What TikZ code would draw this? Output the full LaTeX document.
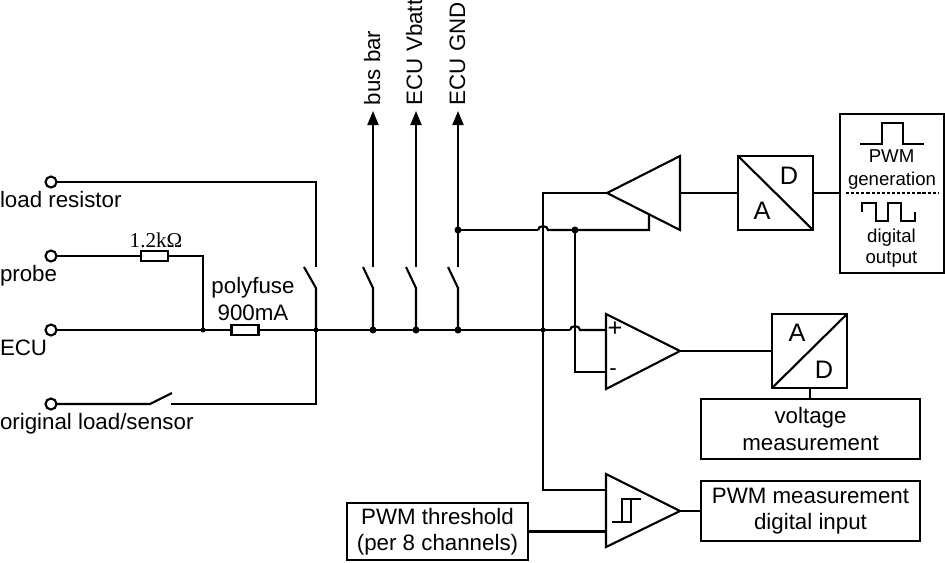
\documentclass[tikz,border=0pt]{standalone}
\usepackage{fontspec}
\setmainfont{Liberation Sans}
\newfontfamily\resfont{Liberation Serif}
\usepackage{tikz}
\usetikzlibrary{arrows.meta}
\pgfdeclarelayer{edgelayer}
\pgfdeclarelayer{nodelayer}
\pgfsetlayers{edgelayer,nodelayer,main}
\tikzstyle{none}=[inner sep=0pt,outer sep=0pt]
\tikzstyle{wire}=[-,line width=0.6pt,line join=miter]
\tikzstyle{thin wire}=[-,line width=0.5pt]
\tikzstyle{outarrow}=[-{Triangle[length=1.4mm,width=1.1mm]},line width=0.6pt]
\tikzstyle{dotted wire}=[-,line width=0.5pt,dash pattern=on 0.9pt off 0.55pt]
\tikzstyle{terminal}=[circle,draw=black,fill=white,line width=0.6pt,inner sep=0pt,outer sep=0pt,minimum size=0.11cm]
\tikzstyle{bigdot}=[circle,fill=black,inner sep=0pt,outer sep=0pt,minimum size=0.07cm]
\tikzstyle{smalldot}=[circle,fill=black,inner sep=0pt,outer sep=0pt,minimum size=0.05cm]
\tikzstyle{resistor}=[rectangle,draw=black,fill=white,line width=0.6pt,inner sep=0pt,outer sep=0pt,minimum width=0.27cm,minimum height=0.10cm]
\tikzstyle{label}=[inner sep=0pt,outer sep=0pt,font=\fontsize{6.35}{7.5}\selectfont]
\tikzstyle{small label}=[inner sep=0pt,outer sep=0pt,font=\fontsize{5.3}{7}\selectfont]
\tikzstyle{letter}=[inner sep=0pt,outer sep=0pt,font=\fontsize{7.2}{8}\selectfont]
\tikzstyle{block}=[rectangle,draw=black,line width=0.6pt,inner sep=0pt,outer sep=0pt,align=center,font=\fontsize{6.35}{7.5}\selectfont]
\tikzstyle{converter}=[style=block,minimum width=0.75cm,minimum height=0.74cm]

\begin{document}
\begin{tikzpicture}
	\useasboundingbox (0,0) rectangle (9.45,-5.62);
	\begin{pgfonlayer}{nodelayer}
		\node [style=terminal] (Tload) at (0.51, -1.82) {};
		\node [style=terminal] (Tprobe) at (0.51, -2.56) {};
		\node [style=terminal] (Tecu) at (0.51, -3.30) {};
		\node [style=terminal] (Torig) at (0.51, -4.04) {};
		\node [style=label, anchor=base west] (Lload) at (0, -2.07) {load resistor};
		\node [style=label, anchor=base west] (Lprobe) at (0, -2.81) {probe};
		\node [style=label, anchor=base west] (Lecu) at (0, -3.55) {ECU};
		\node [style=label, anchor=base west] (Lorig) at (0, -4.29) {original load/sensor};

		\node [style=resistor] (R1) at (1.545, -2.56) {};
		\node [style=label, anchor=base, font=\resfont\fontsize{6}{7.5}\selectfont] (Lres) at (1.56, -2.47) {1.2kΩ};
		\node [style=resistor] (F1) at (2.45, -3.30) {};
		\node [style=label, anchor=base] (Lpoly) at (2.53, -2.93) {polyfuse};
		\node [style=label, anchor=base] (Lfuse) at (2.53, -3.20) {900mA};

		\node [style=smalldot] (J1) at (2.03, -3.30) {};
		\node [style=smalldot] (J2) at (3.16, -3.30) {};
		\node [style=bigdot] (J3) at (3.73, -3.30) {};
		\node [style=bigdot] (J4) at (4.16, -3.30) {};
		\node [style=bigdot] (J5) at (4.58, -3.30) {};
		\node [style=smalldot] (J6) at (5.43, -3.30) {};
		\node [style=bigdot] (J7) at (4.58, -2.30) {};
		\node [style=bigdot] (J8) at (5.75, -2.30) {};

		% relay corners
		\node [style=none] (Cload) at (3.16, -1.82) {};
		\node [style=none] (Sload) at (3.16, -2.67) {};
		\node [style=none] (Sloadt) at (3.04, -2.67) {};
		\node [style=none] (Sloadb) at (3.16, -2.88) {};
		\node [style=none] (Cres) at (2.03, -2.56) {};
		\node [style=none] (Corig) at (3.16, -4.04) {};
		\node [style=none] (Sorigr) at (1.71, -4.04) {};
		\node [style=none] (Sorigl) at (1.50, -4.04) {};
		\node [style=none] (Sorigt) at (1.72, -3.93) {};

		\node [style=none] (Sbusb) at (3.73, -2.88) {};
		\node [style=none] (Sbust) at (3.63, -2.67) {};
		\node [style=none] (Sbus) at (3.73, -2.67) {};
		\node [style=none] (Abus) at (3.73, -1.11) {};
		\node [style=none] (Sbatb) at (4.16, -2.88) {};
		\node [style=none] (Sbatt) at (4.06, -2.67) {};
		\node [style=none] (Sbat) at (4.16, -2.67) {};
		\node [style=none] (Abat) at (4.16, -1.11) {};
		\node [style=none] (Sgndb) at (4.58, -2.88) {};
		\node [style=none] (Sgndt) at (4.48, -2.67) {};
		\node [style=none] (Sgnd) at (4.58, -2.67) {};
		\node [style=none] (Agnd) at (4.58, -1.11) {};

		\node [style=label, anchor=base west, rotate=90] (Lbus) at (3.80, -1.05) {bus bar};
		\node [style=label, anchor=base west, rotate=90] (Lbat) at (4.22, -1.05) {ECU Vbatt};
		\node [style=label, anchor=base west, rotate=90] (Lgnd) at (4.65, -1.05) {ECU GND};

		% output amplifier
		\node [style=none] (OUTa) at (6.07, -1.93) {};
		\node [style=none] (OUTt) at (6.80, -1.56) {};
		\node [style=none] (OUTb) at (6.80, -2.30) {};
		\node [style=none] (OUTm) at (6.80, -1.93) {};
		\node [style=none] (OUTs) at (6.49, -2.15) {};
		\node [style=none] (OUTc) at (6.49, -2.30) {};
		\node [style=none] (Hgndl) at (5.38, -2.30) {};
		\node [style=none] (Hgndr) at (5.48, -2.30) {};
		\node [style=none] (Cout) at (5.43, -1.93) {};

		\node [style=converter] (DAC) at (7.755, -1.93) {};
		\node [style=letter] (DACd) at (7.89, -1.76) {D};
		\node [style=letter] (DACa) at (7.62, -2.11) {A};

		\node [style=block, minimum width=1.04cm, minimum height=1.59cm] (GEN) at (8.92, -1.935) {};
		\node [style=none] (GENw) at (8.40, -1.93) {};
		\node [style=none] (Pa) at (8.60, -1.44) {};
		\node [style=none] (Pb) at (8.82, -1.44) {};
		\node [style=none] (Pc) at (8.82, -1.23) {};
		\node [style=none] (Pd) at (9.03, -1.23) {};
		\node [style=none] (Pe) at (9.03, -1.44) {};
		\node [style=none] (Pf) at (9.24, -1.44) {};
		\node [style=small label, anchor=base] (Lpwm) at (8.915, -1.62) {PWM};
		\node [style=small label, anchor=base] (Lgen) at (8.92, -1.85) {generation};
		\node [style=none] (Dl) at (8.46, -1.93) {};
		\node [style=none] (Dr) at (9.38, -1.93) {};
		\node [style=none] (Qa) at (8.62, -2.12) {};
		\node [style=none] (Qb) at (8.62, -2.03) {};
		\node [style=none] (Qc) at (8.76, -2.03) {};
		\node [style=none] (Qd) at (8.76, -2.21) {};
		\node [style=none] (Qe) at (8.88, -2.21) {};
		\node [style=none] (Qf) at (8.88, -2.03) {};
		\node [style=none] (Qg) at (9.01, -2.03) {};
		\node [style=none] (Qh) at (9.01, -2.21) {};
		\node [style=none] (Qi) at (9.15, -2.21) {};
		\node [style=none] (Qj) at (9.15, -2.12) {};
		\node [style=small label, anchor=base] (Ldig) at (8.915, -2.42) {digital};
		\node [style=small label, anchor=base] (Lout) at (8.915, -2.63) {output};

		% measure amplifier
		\node [style=none] (INt) at (6.06, -3.14) {};
		\node [style=none] (INb) at (6.06, -3.89) {};
		\node [style=none] (INa) at (6.80, -3.51) {};
		\node [style=none] (INp) at (6.06, -3.30) {};
		\node [style=none] (INm) at (6.06, -3.72) {};
		\node [style=none] (Cm) at (5.75, -3.72) {};
		\node [style=none] (Hl) at (5.70, -3.30) {};
		\node [style=none] (Hr) at (5.80, -3.30) {};
		\node [style=letter] (Lp) at (6.15, -3.29) {+};
		\node [style=label] (Lm) at (6.13, -3.72) {-};

		\node [style=converter] (ADC) at (8.095, -3.51) {};
		\node [style=letter] (ADCa) at (7.97, -3.33) {A};
		\node [style=letter] (ADCd) at (8.24, -3.70) {D};
		\node [style=none] (ADCw) at (7.72, -3.51) {};
		\node [style=block, minimum width=2.19cm, minimum height=0.60cm] (VOLT) at (8.105, -4.29) {voltage\\measurement};
		\node [style=none] (ADCs) at (8.10, -3.88) {};
		\node [style=none] (VOLTn) at (8.10, -3.99) {};

		% comparator
		\node [style=none] (CMPt) at (6.06, -4.74) {};
		\node [style=none] (CMPb) at (6.06, -5.47) {};
		\node [style=none] (CMPa) at (6.80, -5.11) {};
		\node [style=none] (CMPi) at (6.06, -4.90) {};
		\node [style=none] (CMPj) at (6.06, -5.315) {};
		\node [style=none] (Cbot) at (5.43, -4.90) {};
		\node [style=none] (Ha) at (6.12, -5.22) {};
		\node [style=none] (Hb) at (6.31, -5.22) {};
		\node [style=none] (Hc) at (6.31, -4.99) {};
		\node [style=none] (Hd) at (6.41, -4.99) {};
		\node [style=none] (He) at (6.22, -5.22) {};
		\node [style=none] (Hf) at (6.22, -4.99) {};
		\node [style=block, minimum width=1.81cm, minimum height=0.57cm] (THR) at (4.375, -5.315) {PWM threshold\\(per 8 channels)};
		\node [style=block, minimum width=2.19cm, minimum height=0.60cm] (MEAS) at (8.105, -5.11) {PWM measurement\\digital input};
	\end{pgfonlayer}
	\begin{pgfonlayer}{edgelayer}
		\draw [style=wire] (Tload) to (Cload.center) to (Sload.center);
		\draw [style=wire] (Sloadt.center) to (Sloadb.center) to (J2.center);
		\draw [style=wire] (Tprobe) to (R1);
		\draw [style=wire] (R1) to (Cres.center) to (J1.center);
		\draw [style=wire] (Tecu) to (Hl.center);
		\draw [style=wire] (Hl.center) to [out=90,in=90,looseness=1.3] (Hr.center) to (INp.center);
		\draw [style=wire] (Torig) to (Sorigl.center) to (Sorigt.center);
		\draw [style=wire] (Sorigr.center) to (Corig.center) to (J2.center);

		\draw [style=wire] (J3.center) to (Sbusb.center) to (Sbust.center);
		\draw [style=wire] (J4.center) to (Sbatb.center) to (Sbatt.center);
		\draw [style=wire] (J5.center) to (Sgndb.center) to (Sgndt.center);
		\draw [style=outarrow] (Sbus.center) to (Abus.center);
		\draw [style=outarrow] (Sbat.center) to (Abat.center);
		\draw [style=outarrow] (Sgnd.center) to (Agnd.center);

		\draw [style=wire] (J7.center) to (Hgndl.center);
		\draw [style=wire] (Hgndl.center) to [out=90,in=90,looseness=1.3] (Hgndr.center) to (OUTc.center) to (OUTs.center);
		\draw [style=wire] (J8.center) to (Cm.center) to (INm.center);
		\draw [style=wire] (OUTa.center) to (OUTt.center) to (OUTb.center) -- cycle;
		\draw [style=wire] (OUTa.center) to (Cout.center) to (Cbot.center) to (CMPi.center);
		\draw [style=wire] (OUTm.center) to (DAC.west);
		\draw [style=wire] (DAC.east) to (GENw.center);
		\draw [style=wire] (DAC.north west) to (DAC.south east);
		\draw [style=wire] (Pa.center) to (Pb.center) to (Pc.center) to (Pd.center) to (Pe.center) to (Pf.center);
		\draw [style=dotted wire] (Dl.center) to (Dr.center);
		\draw [style=wire] (Qa.center) to (Qb.center) to (Qc.center) to (Qd.center) to (Qe.center) to (Qf.center) to (Qg.center) to (Qh.center) to (Qi.center) to (Qj.center);

		\draw [style=wire] (INt.center) to (INa.center) to (INb.center) -- cycle;
		\draw [style=wire] (INa.center) to (ADCw.center);
		\draw [style=wire] (ADC.south west) to (ADC.north east);
		\draw [style=wire] (ADCs.center) to (VOLTn.center);

		\draw [style=wire] (CMPt.center) to (CMPa.center) to (CMPb.center) -- cycle;
		\draw [style=wire] (THR.east) to (CMPj.center);
		\draw [style=wire] (CMPa.center) to (MEAS.west);
		\draw [style=thin wire] (Ha.center) to (Hb.center) to (Hc.center) to (Hd.center);
		\draw [style=thin wire] (He.center) to (Hf.center) to (Hc.center);
	\end{pgfonlayer}
\end{tikzpicture}
\end{document}
